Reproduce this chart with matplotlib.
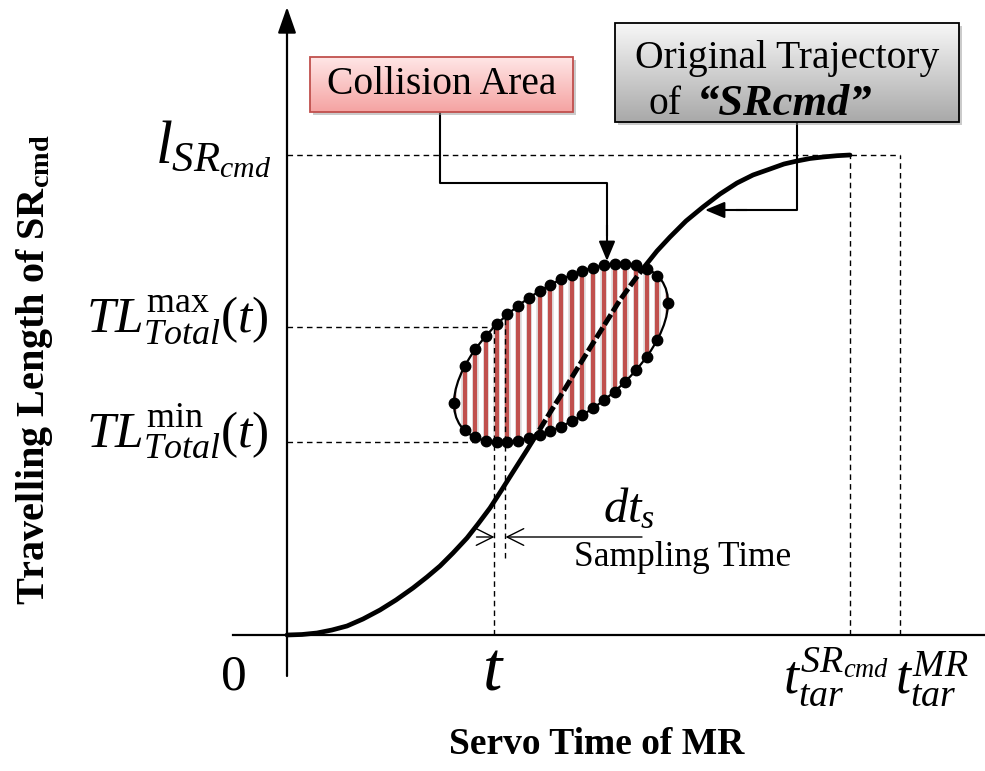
import numpy as np
import matplotlib.pyplot as plt
from matplotlib.patches import Ellipse, Rectangle

plt.rcParams['font.family'] = ['Liberation Serif', 'DejaVu Serif']
plt.rcParams['mathtext.fontset'] = 'custom'
plt.rcParams['mathtext.rm'] = 'Liberation Serif'
plt.rcParams['mathtext.it'] = 'Liberation Serif:italic'
plt.rcParams['mathtext.bf'] = 'Liberation Serif:bold'

# travelling length of SRcmd vs servo time
time_pts = [0, .15, .30, .45, .60, .76, .93, 1.09, 1.26, 1.40,
            1.53, 1.66, 1.80, 1.91, 2.03, 2.14, 2.26, 2.40, 2.53, 2.64,
            2.76, 2.90, 3.03, 3.18, 3.33, 3.46, 3.58, 3.70, 3.83, 3.99,
            4.16, 4.33, 4.50, 4.66, 4.83, 4.97, 5.10, 5.23, 5.36, 5.50, 5.63]
length_pts = [0, .005, .02, .05, .09, .16, .25, .35, .47, .58,
              .69, .82, .97, 1.11, 1.27, 1.44, 1.63, 1.85, 2.06, 2.24,
              2.43, 2.66, 2.87, 3.11, 3.35, 3.53, 3.69, 3.84, 3.98, 4.14,
              4.28, 4.41, 4.52, 4.60, 4.66, 4.71, 4.74, 4.765, 4.78, 4.793, 4.80]

t_now = 2.075
dt_s = 0.11
t_tar_sr = 5.63
t_tar_mr = 6.13
l_sr = 4.80
tl_max = 3.08
tl_min = 1.93

# collision area (tilted ellipse) and its sampling
area_center = (2.74, 2.82)
area_semi = (1.24, 0.635)
area_tilt = 36.0
n_samples = 21


def ellipse_ys(x):
    cx, cy = area_center
    a, b = area_semi
    th = np.radians(area_tilt)
    c, s = np.cos(th), np.sin(th)
    dx = np.asarray(x) - cx
    A = s**2 / a**2 + c**2 / b**2
    B = 2 * dx * (c * s / a**2 - s * c / b**2)
    C = dx**2 * (c**2 / a**2 + s**2 / b**2) - 1
    disc = np.sqrt(np.clip(B**2 - 4 * A * C, 0, None))
    return cy + (-B + disc) / (2 * A), cy + (-B - disc) / (2 * A)


fig = plt.figure(figsize=(9.85, 7.71), dpi=100)
ax = fig.add_axes([0, 0, 1, 1])
ax.set_xlim(-2.87, 6.98)
ax.set_ylim(-1.36, 6.35)
ax.axis('off')

# axes
ax.plot([-0.54, 6.98], [0, 0], color='k', lw=1.6, zorder=2)
ax.annotate('', xy=(0, 6.28), xytext=(0, -0.41),
            arrowprops=dict(arrowstyle='-|>,head_length=0.8,head_width=0.28',
                            color='k', lw=1.6, mutation_scale=20,
                            shrinkA=0, shrinkB=0))

# trajectory
ax.plot(time_pts, length_pts, color='k', lw=3.4, solid_capstyle='round',
        solid_joinstyle='round', zorder=2)

# guide lines
guide = dict(color='k', lw=1.0, linestyle=(0, (4, 3)), zorder=5)
ax.plot([0, t_tar_mr], [l_sr, l_sr], **guide)
ax.plot([t_tar_sr, t_tar_sr], [0, l_sr], **guide)
ax.plot([t_tar_mr, t_tar_mr], [0, l_sr], **guide)
ax.plot([0, t_now], [tl_max, tl_max], **guide)
ax.plot([0, t_now], [tl_min, tl_min], **guide)
ax.plot([t_now, t_now], [0, tl_max], **guide)
top_next = ellipse_ys(t_now + dt_s)[0]
ax.plot([t_now + dt_s, t_now + dt_s], [0.77, top_next], **guide)

# collision area
region = Ellipse(area_center, 2 * area_semi[0], 2 * area_semi[1], angle=area_tilt,
                 facecolor='#e2e2e2', edgecolor='none', zorder=3)
ax.add_patch(region)
th = np.radians(area_tilt)
half_w = np.sqrt((area_semi[0] * np.cos(th))**2 + (area_semi[1] * np.sin(th))**2)
xs = np.linspace(area_center[0] - half_w, area_center[0] + half_w, n_samples)
cy = area_center[1]
whites = ax.vlines((xs[:-1] + xs[1:]) / 2, cy - 1.5, cy + 1.5, colors='white',
                   lw=3.0, zorder=4)
whites.set_clip_path(region)
reds = ax.vlines(xs, cy - 1.5, cy + 1.5, colors='#c0504d', lw=3.0, zorder=4)
reds.set_clip_path(region)
dashed_curve, = ax.plot(time_pts, length_pts, color='k', lw=3.6,
                        dashes=(2.4, 0.7), zorder=6)
dashed_curve.set_clip_path(region)
ax.add_patch(Ellipse(area_center, 2 * area_semi[0], 2 * area_semi[1],
                     angle=area_tilt, fill=False, edgecolor='k', lw=1.6, zorder=7))
y_top, y_bot = ellipse_ys(xs)
dot_x = np.concatenate([xs, xs[1:-1]])
dot_y = np.concatenate([y_top, y_bot[1:-1]])
ax.plot(dot_x, dot_y, 'o', color='k', ms=7.5, zorder=8)

# sampling time arrows
arr = dict(arrowstyle='->,head_length=0.8,head_width=0.4', color='k', lw=1.0,
           mutation_scale=15, shrinkA=0, shrinkB=0)
ax.annotate('', xy=(t_now, 0.98), xytext=(t_now - 0.18, 0.98), arrowprops=arr)
ax.annotate('', xy=(t_now + dt_s, 0.98), xytext=(3.55, 0.98), arrowprops=arr)
ax.text(3.42, 1.13, r'$dt_s$', fontsize=35, ha='center', va='baseline')
ax.text(3.96, 0.78, 'Sampling Time', fontsize=25.5, ha='center', va='center')


# callout boxes
def gradient_box(x0, y0, x1, y1, top, bottom, edge):
    shadow = Rectangle((x0 + 0.03, y0 - 0.03), x1 - x0, y1 - y0,
                       facecolor='#999999', edgecolor='none', alpha=0.5, zorder=9)
    ax.add_patch(shadow)
    box = Rectangle((x0, y0), x1 - x0, y1 - y0, facecolor='none',
                    edgecolor=edge, lw=1.3, zorder=11)
    ax.add_patch(box)
    c0 = np.array(plt.matplotlib.colors.to_rgb(top))
    c1 = np.array(plt.matplotlib.colors.to_rgb(bottom))
    grad = np.linspace(0, 1, 64)[:, None, None]
    img = c0 * (1 - grad) + c1 * grad
    im = ax.imshow(img, extent=(x0, x1, y0, y1), origin='upper', aspect='auto',
                   zorder=10, interpolation='bilinear')
    im.set_clip_path(box)


gradient_box(0.23, 5.23, 2.86, 5.78, '#ffe6e6', '#f5a3a2', '#c0504d')
ax.text(1.545, 5.50, 'Collision Area', fontsize=28.5, ha='center', va='center', zorder=12)
gradient_box(3.28, 5.13, 6.72, 6.12, '#f7f7f7', '#a9a9a9', '#000000')
ax.text(5.00, 5.76, 'Original Trajectory', fontsize=28.5, ha='center', va='center', zorder=12)
ax.text(3.95, 5.31, 'of', fontsize=28.5, ha='right', va='center', zorder=12)
ax.text(4.10, 5.31, '\u201cSRcmd\u201d', fontsize=32, ha='left', va='center',
        fontweight='bold', fontstyle='italic', zorder=12)

# callout leaders
lead = dict(color='k', lw=1.5, zorder=5)
ax.plot([1.53, 1.53, 3.20, 3.20], [5.23, 4.52, 4.52, 4.0], **lead)
ax.annotate('', xy=(3.20, 3.74), xytext=(3.20, 4.1),
            arrowprops=dict(arrowstyle='-|>,head_length=0.6,head_width=0.25',
                            color='k', lw=1.5, mutation_scale=20,
                            shrinkA=0, shrinkB=0), zorder=9)
ax.plot([5.10, 5.10, 4.5], [5.13, 4.25, 4.25], **lead)
ax.annotate('', xy=(4.18, 4.25), xytext=(4.6, 4.25),
            arrowprops=dict(arrowstyle='-|>,head_length=0.6,head_width=0.25',
                            color='k', lw=1.5, mutation_scale=20,
                            shrinkA=0, shrinkB=0))

# axis texts
ax.text(-0.53, -0.55, '0', fontsize=37, ha='center', va='baseline')
ax.text(t_now - 0.01, -0.55, r'$t$', fontsize=50, ha='center', va='baseline')
ax.text(5.49, -0.58, r'$t^{SR_{cmd}}_{tar}$', fontsize=39, ha='center', va='baseline')
ax.text(6.45, -0.58, r'$t^{MR}_{tar}$', fontsize=39, ha='center', va='baseline')
ax.text(-0.16, 4.72, r'$l_{SR_{cmd}}$', fontsize=44, ha='right', va='baseline')
ax.text(-0.19, 3.03, r'$TL^{\mathrm{max}}_{Total}(t)$', fontsize=37, ha='right', va='baseline')
ax.text(-0.19, 1.88, r'$TL^{\mathrm{min}}_{Total}(t)$', fontsize=37, ha='right', va='baseline')

ax.text(3.10, -1.10, 'Servo Time of MR', fontsize=27, fontweight='bold',
        ha='center', va='center')
ax.text(-2.52, 2.65, r'Travelling Length of SR$_{\mathbf{cmd}}$', fontsize=29,
        fontweight='bold', rotation=90, ha='center', va='center')

fig.savefig('out.png', dpi=100)
